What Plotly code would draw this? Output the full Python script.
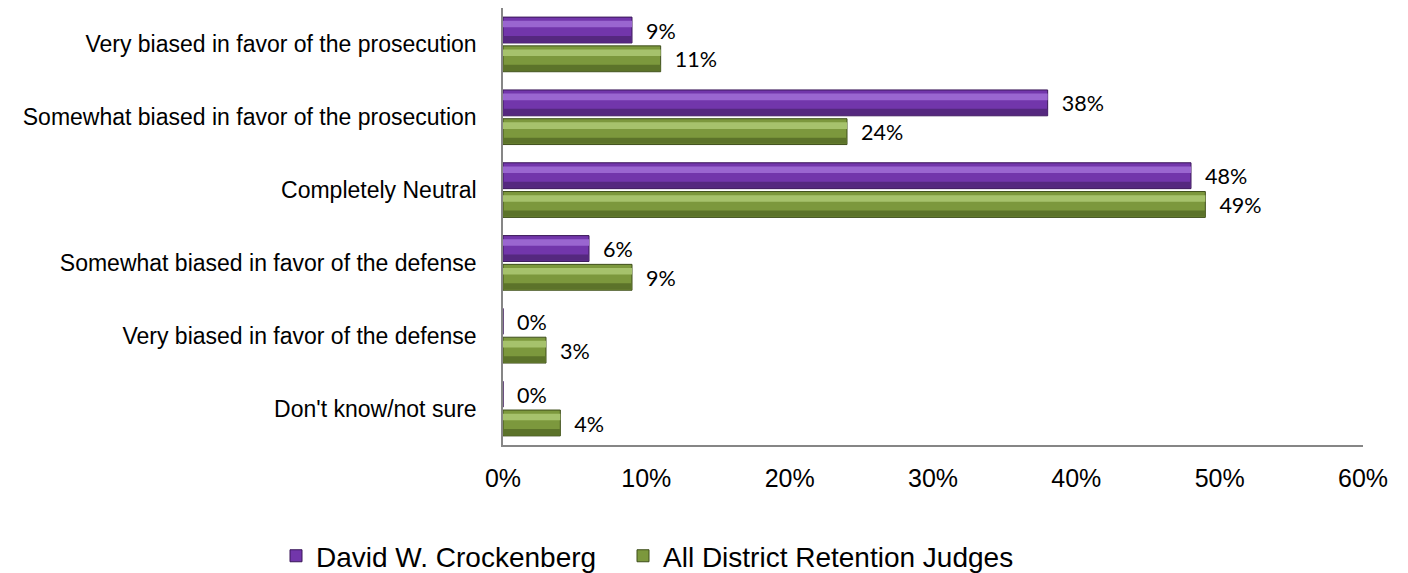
import plotly.graph_objects as go

categories = [
    "Very biased in favor of the prosecution",
    "Somewhat biased in favor of the prosecution",
    "Completely Neutral",
    "Somewhat biased in favor of the defense",
    "Very biased in favor of the defense",
    "Don't know/not sure",
]
crockenberg = [0.09, 0.38, 0.48, 0.06, 0.00, 0.00]
all_judges = [0.11, 0.24, 0.49, 0.09, 0.03, 0.04]
series_names = ["David W. Crockenberg", "All District Retention Judges"]
tick_vals = [0, 0.1, 0.2, 0.3, 0.4, 0.5, 0.6]
tick_text = ["0%", "10%", "20%", "30%", "40%", "50%", "60%"]

# style: (base, highlight, shade, outline, offset, legend id)
styles = [
    ("#7236AB", "#9A66D0", "#55287F", "#3A1758", -0.375, "legend"),
    ("#7C983D", "#A6C26C", "#5C732A", "#3E4E1B", 0.02, "legend2"),
]
BAR_W = 0.355

fig = go.Figure()
for name, vals, (base, hi, shade, outline, off, lg) in zip(series_names, [crockenberg, all_judges], styles):
    fig.add_trace(go.Bar(
        y=categories, x=vals, orientation="h", name=name, legend=lg,
        offset=off, width=BAR_W,
        marker=dict(color=base, line=dict(color=outline, width=1)),
        text=["\u00a0\u00a0" + f"{v:.0%}" for v in vals],
        textposition="outside", cliponaxis=False,
        textfont=dict(family="Lato", size=25, color="#000000"),
        hoverinfo="x+name",
    ))
for name, vals, (base, hi, shade, outline, off, lg) in zip(series_names, [crockenberg, all_judges], styles):
    # bevel highlight (top) and shade (bottom) bands
    fig.add_trace(go.Bar(
        y=categories, x=vals, orientation="h", showlegend=False, hoverinfo="skip",
        offset=off + 0.05, width=0.09, marker=dict(color=hi, line=dict(width=0)),
    ))
    fig.add_trace(go.Bar(
        y=categories, x=vals, orientation="h", showlegend=False, hoverinfo="skip",
        offset=off + 0.26, width=0.085, marker=dict(color=shade, line=dict(width=0)),
    ))

legend_common = dict(
    orientation="h", xref="container", yref="container",
    xanchor="left", y=0.03, yanchor="middle",
    font=dict(family="Liberation Sans, Arial", size=28, color="#000000"),
    itemwidth=30, bgcolor="rgba(0,0,0,0)",
)

fig.update_layout(
    width=1400, height=565,
    margin=dict(l=495, r=45, t=0, b=128),
    paper_bgcolor="white", plot_bgcolor="white",
    barmode="overlay",
    font=dict(family="Liberation Sans, Arial", color="#000000"),
    showlegend=True,
    legend=dict(x=268 / 1400, **legend_common),
    legend2=dict(x=615 / 1400, **legend_common),
)
fig.update_xaxes(
    range=[0, 0.6], tickvals=tick_vals, ticktext=tick_text,
    showgrid=False, zeroline=False, showline=True, linecolor="#868686", linewidth=1.5,
    ticks="", ticklabelstandoff=10,
    tickfont=dict(family="Liberation Sans, Arial", size=25, color="#000000"),
)
fig.update_yaxes(
    autorange="reversed", showgrid=False, zeroline=False,
    showline=True, linecolor="#868686", linewidth=1.5, ticks="",
    ticklabelstandoff=20,
    tickfont=dict(family="Liberation Sans, Arial", size=23, color="#000000"),
)

fig.write_html("out.html")
